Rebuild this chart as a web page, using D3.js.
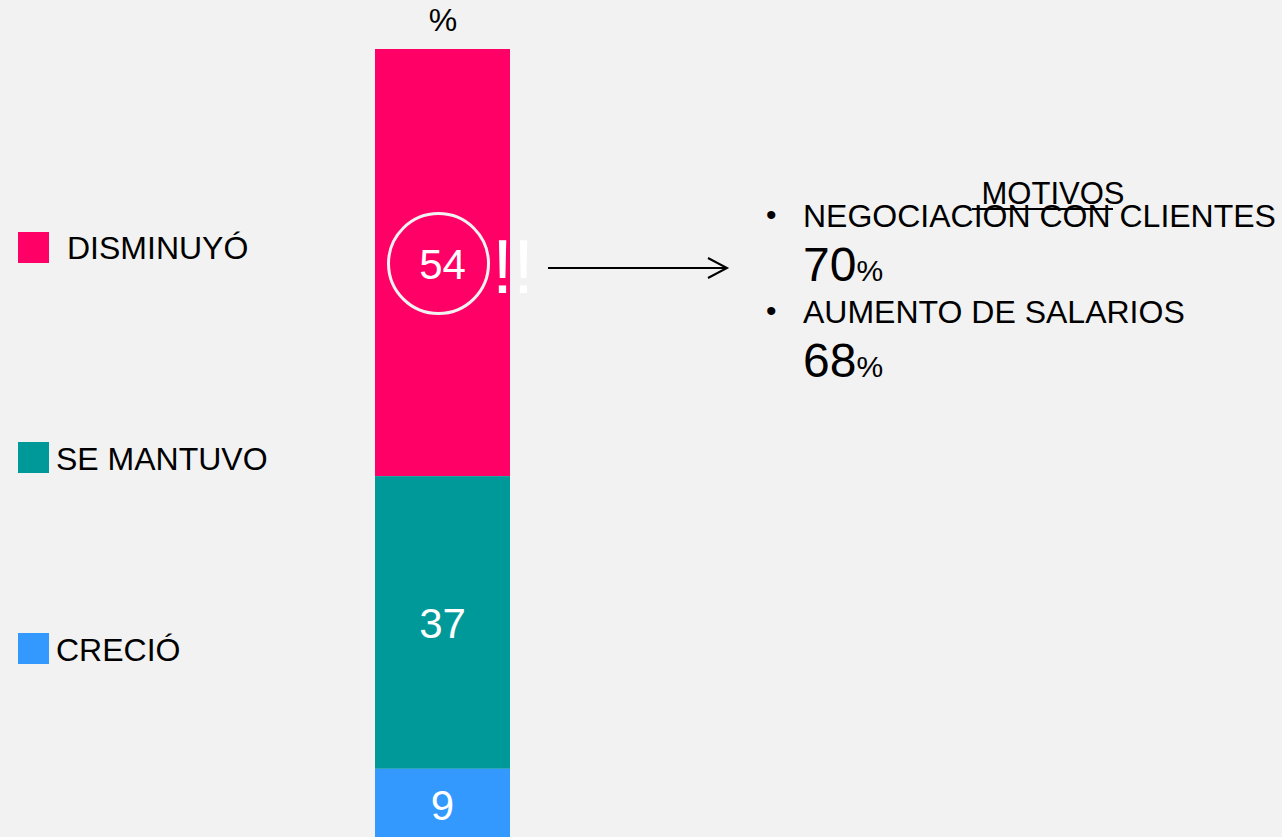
<!DOCTYPE html>
<html>
<head>
<meta charset="utf-8">
<script src="https://cdn.jsdelivr.net/npm/d3@7"></script>
<style>
  html, body { margin: 0; padding: 0; background: #F2F2F2; }
  svg { display: block; font-family: "Liberation Sans", Arial, sans-serif; }
</style>
</head>
<body>
<svg id="chart" width="1282" height="837"></svg>
<script>
const categories = ["DISMINUYÓ", "SE MANTUVO", "CRECIÓ"];
const values = [54, 37, 9];
const colors = ["#FF0066", "#009999", "#3399FF"];
const legendY = [247, 458, 649];
const axisLabel = "%";
const motivosTitle = "MOTIVOS";
const motivos = ["NEGOCIACION CON CLIENTES", "AUMENTO DE SALARIOS"];
const motivosValues = [70, 68];

const svg = d3.select("#chart");
svg.append("rect").attr("width", 1282).attr("height", 837).attr("fill", "#F2F2F2");

const x = d3.scaleBand().domain(["total"]).range([375, 510]).padding(0);
const y = d3.scaleLinear().domain([0, 100]).range([840, 49]);

// stacked segments: first category on top
let acc = 100;
const segs = categories.map((c, i) => {
  const top = acc, bottom = acc - values[i];
  acc = bottom;
  return { cat: c, value: values[i], top, bottom, color: colors[i] };
});

svg.selectAll("rect.seg").data(segs).join("rect")
  .attr("class", "seg")
  .attr("x", x("total"))
  .attr("width", x.bandwidth())
  .attr("y", d => y(d.top))
  .attr("height", d => y(d.bottom) - y(d.top))
  .attr("fill", d => d.color);

svg.selectAll("text.val").data(segs).join("text")
  .attr("class", "val")
  .attr("x", x("total") + x.bandwidth() / 2)
  .attr("y", d => (y(d.top) + y(d.bottom)) / 2 + 16)
  .attr("text-anchor", "middle")
  .attr("font-size", 42)
  .attr("fill", "#ffffff")
  .text(d => d.value);

// circle around the top value
const s0 = segs[0];
const cy0 = (y(s0.top) + y(s0.bottom)) / 2;
svg.append("circle")
  .attr("cx", x("total") + x.bandwidth() / 2 - 4)
  .attr("cy", cy0 + 1)
  .attr("r", 50)
  .attr("fill", "none")
  .attr("stroke", "#F2F2F2")
  .attr("stroke-width", 3);

svg.append("text")
  .attr("x", 492).attr("y", cy0 + 30)
  .attr("font-size", 76)
  .attr("fill", "#ffffff")
  .text("!!");

// axis label
svg.append("text")
  .attr("x", 443).attr("y", 31)
  .attr("text-anchor", "middle")
  .attr("font-size", 32)
  .attr("fill", "#000")
  .text(axisLabel);

// legend
const lg = svg.selectAll("g.lg").data(categories).join("g").attr("class", "lg");
lg.append("rect")
  .attr("x", 18).attr("y", (d, i) => [232, 442, 633][i])
  .attr("width", 31).attr("height", 31)
  .attr("fill", (d, i) => colors[i]);
lg.append("text")
  .attr("x", (d, i) => i === 0 ? 67 : 56)
  .attr("y", (d, i) => legendY[i] + 12)
  .attr("font-size", 32)
  .attr("fill", "#000")
  .text(d => d);

// arrow
svg.append("line")
  .attr("x1", 548).attr("y1", 268).attr("x2", 726).attr("y2", 268)
  .attr("stroke", "#000").attr("stroke-width", 2);
svg.append("path")
  .attr("d", "M708,258 L727,268 L708,278")
  .attr("fill", "none").attr("stroke", "#000").attr("stroke-width", 2);

// motivos
svg.append("text")
  .attr("x", 1053).attr("y", 204)
  .attr("text-anchor", "middle")
  .attr("font-size", 31)
  .attr("fill", "#000")
  .text(motivosTitle);
svg.append("line")
  .attr("x1", 972).attr("x2", 1113).attr("y1", 209).attr("y2", 209)
  .attr("stroke", "#000").attr("stroke-width", 2);

const itemY = [227, 323];
motivos.forEach((m, i) => {
  svg.append("text")
    .attr("x", 766).attr("y", itemY[i] - 2)
    .attr("font-size", 30)
    .attr("fill", "#000")
    .text("•");
  svg.append("text")
    .attr("x", 803).attr("y", itemY[i])
    .attr("font-size", 32)
    .attr("fill", "#000")
    .text(m);
  const t = svg.append("text")
    .attr("x", 803).attr("y", itemY[i] + 54)
    .attr("fill", "#000");
  t.append("tspan").attr("font-size", 48).text(motivosValues[i]);
  t.append("tspan").attr("font-size", 30).text("%");
});
</script>
</body>
</html>
